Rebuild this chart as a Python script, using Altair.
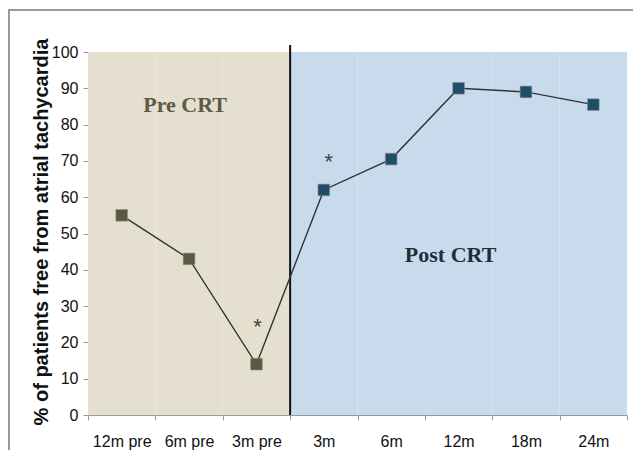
import altair as alt
import pandas as pd

categories = ["12m pre", "6m pre", "3m pre", "3m", "6m", "12m", "18m", "24m"]
values = [55, 43, 14, 62, 70.5, 90, 89, 85.5]
phases = ["Pre", "Pre", "Pre", "Post", "Post", "Post", "Post", "Post"]

pre_label, pre_label_cat, pre_label_y = "Pre CRT", "6m pre", 85.4
post_label, post_label_cat, post_label_y = "Post CRT", "12m", 44

star_pre_cat, star_pre_y = "3m pre", 22.2
star_post_cat, star_post_y = "3m", 67.9

y_ticks = list(range(0, 101, 10))

df = pd.DataFrame({"cat": categories, "value": values, "phase": phases})
df_pre = pd.DataFrame({"label": [pre_label], "cat": [pre_label_cat], "y": [pre_label_y]})
df_post = pd.DataFrame({"label": [post_label], "cat": [post_label_cat], "y": [post_label_y]})
df_star_pre = pd.DataFrame({"cat": [star_pre_cat], "y": [star_pre_y]})
df_star_post = pd.DataFrame({"cat": [star_post_cat], "y": [star_post_y]})
df_sep = pd.DataFrame({"cat": ["3m pre"]})

W, H = 539, 363
FONT = "Liberation Sans, Arial, sans-serif"
SERIF = "Liberation Serif, Times New Roman, serif"

xscale = alt.Scale(type="band", domain=categories, paddingInner=0, paddingOuter=0)
yscale = alt.Scale(domain=[0, 100], nice=False)

x_axis = alt.Axis(
    title=None, labelAngle=0, tickBand="extent", grid=False,
    domainColor="#9a9a9a", tickColor="#9a9a9a", tickSize=5,
    labelPadding=13, labelFontSize=16, labelFont=FONT, labelColor="#111111",
)
y_axis = alt.Axis(
    title="% of patients free from atrial tachycardia", values=y_ticks, grid=False,
    labelOverlap=False,
    domainColor="#c0c0c0", tickColor="#9a9a9a", tickSize=5, labelPadding=5,
    labelFontSize=16, labelFont=FONT, labelColor="#111111",
    titleFont=FONT, titleFontSize=20, titleFontWeight="bold", titleColor="#111111",
    titleAngle=-90, titleAlign="center", titleBaseline="middle",
    titleX=-47, titleY=H / 2 - 2,
)

base = alt.Chart(df)

shade = base.mark_rect().encode(
    x=alt.X("cat:N", scale=xscale, axis=x_axis, sort=categories),
    y=alt.datum(100, scale=yscale, axis=y_axis),
    y2=alt.datum(0),
    fill=alt.Fill("phase:N", scale=alt.Scale(domain=["Pre", "Post"], range=["#e5dfd0", "#c7dbed"]), legend=None),
)

sep = alt.Chart(df_sep).mark_rule(color="#111111", strokeWidth=2).encode(
    x=alt.X("cat:N", bandPosition=1, sort=categories),
    y=alt.value(-7),
    y2=alt.value(H),
)

line = base.mark_line(color="#333333", strokeWidth=1.4).encode(
    x=alt.X("cat:N", sort=categories),
    y=alt.Y("value:Q", scale=yscale, axis=y_axis),
    order=alt.Order("idx:Q"),
).transform_window(idx="row_number()")

points = base.mark_point(shape="square", filled=True, size=135, opacity=1,
                         stroke="#8a8a8a", strokeWidth=0.6).encode(
    x=alt.X("cat:N", sort=categories),
    y=alt.Y("value:Q", scale=yscale, axis=y_axis),
    color=alt.Color("phase:N", scale=alt.Scale(domain=["Pre", "Post"], range=["#5a5a3e", "#1f4f68"]), legend=None),
)

pre_text = alt.Chart(df_pre).mark_text(
    font=SERIF, fontSize=22, fontWeight="bold", baseline="middle", align="center",
    color="#5c5b48", dx=-4
).encode(
    x=alt.X("cat:N", sort=categories),
    y=alt.Y("y:Q", scale=yscale, axis=y_axis),
    text="label:N",
)

post_text = alt.Chart(df_post).mark_text(
    font=SERIF, fontSize=22, fontWeight="bold", baseline="middle", align="center",
    color="#1e2f3b", dx=-8
).encode(
    x=alt.X("cat:N", sort=categories),
    y=alt.Y("y:Q", scale=yscale, axis=y_axis),
    text="label:N",
)

star_pre = alt.Chart(df_star_pre).mark_text(
    font=FONT, fontSize=22, color="#444444", baseline="alphabetic", align="center", text="*", dx=1
).encode(
    x=alt.X("cat:N", sort=categories),
    y=alt.Y("y:Q", scale=yscale, axis=y_axis),
)

star_post = alt.Chart(df_star_post).mark_text(
    font=FONT, fontSize=22, color="#444444", baseline="alphabetic", align="center", text="*", dx=5
).encode(
    x=alt.X("cat:N", sort=categories),
    y=alt.Y("y:Q", scale=yscale, axis=y_axis),
)

frame_left = alt.Chart(df_sep).mark_rule(color="#9a9a9a", strokeWidth=2).encode(
    x=alt.value(-79), y=alt.value(-42), y2=alt.value(H + 40)
)
frame_top = alt.Chart(df_sep).mark_rule(color="#9a9a9a", strokeWidth=2).encode(
    x=alt.value(-80), x2=alt.value(W + 10), y=alt.value(-42)
)

chart = alt.layer(
    shade, sep, line, points, pre_text, post_text, star_pre, star_post, frame_left, frame_top
).properties(
    width=W, height=H,
    autosize=alt.AutoSizeParams(type="none"),
    padding={"left": 80, "top": 44, "right": 6, "bottom": 35},
    background="white",
).configure_view(stroke=None)

chart.save("out.html", embed_options={"renderer": "svg", "actions": False})
